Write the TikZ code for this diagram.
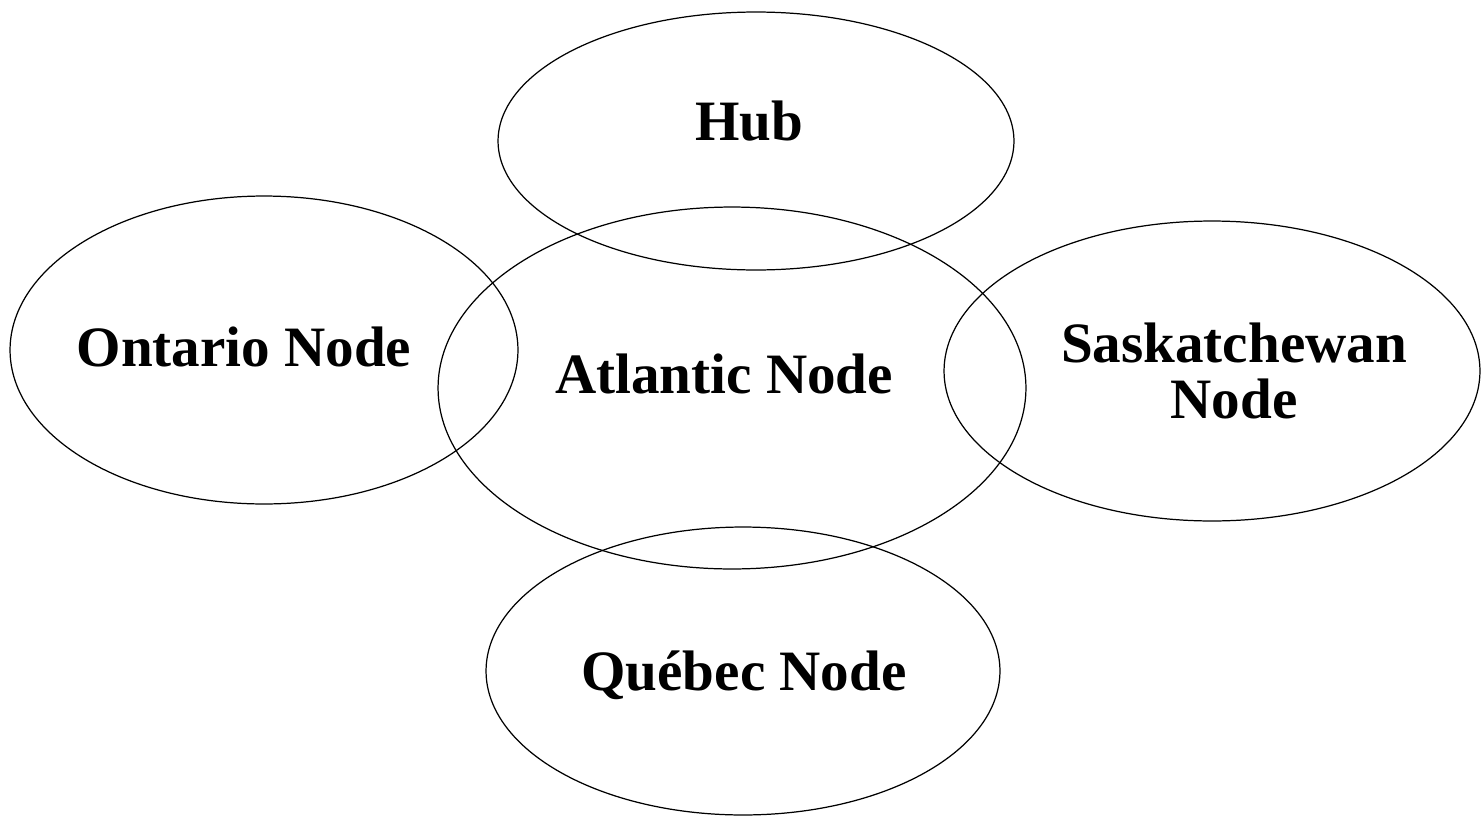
\documentclass[tikz,border=0pt]{standalone}
\usepackage{fontspec}
\setmainfont{Liberation Serif}
\usetikzlibrary{shapes.geometric}
\newcommand{\nodeFont}{\fontsize{32.5}{32}\selectfont\bfseries}

\begin{document}
\begin{tikzpicture}[x=0.02cm, y=-0.02cm,
		region/.style={draw, ellipse, line width=0.7pt, inner sep=0pt},
		label text/.style={font=\nodeFont, align=center, inner sep=0pt}]
	\useasboundingbox (0,0) rectangle (1481,815);
	%regions
	\node[region, minimum width=10.32cm, minimum height=5.16cm] (hub) at (756,141) {};
	\node[region, minimum width=10.16cm, minimum height=6.16cm] (ontario) at (264,350) {};
	\node[region, minimum width=11.76cm, minimum height=7.24cm] (atlantic) at (732,388) {};
	\node[region, minimum width=10.72cm, minimum height=6.00cm] (saskatchewan) at (1212,371) {};
	\node[region, minimum width=10.28cm, minimum height=5.76cm] (quebec) at (743,671) {};
	%labels
	\node[label text] (hubText) at (749,121) {Hub};
	\node[label text] (ontarioText) at (244,347) {Ontario Node};
	\node[label text] (atlanticText) at (724,374) {Atlantic Node};
	\node[label text] (saskatchewanText) at (1234,371) {Saskatchewan\\Node};
	\node[label text] (quebecText) at (744,675) {Québec Node};
\end{tikzpicture}
\end{document}
